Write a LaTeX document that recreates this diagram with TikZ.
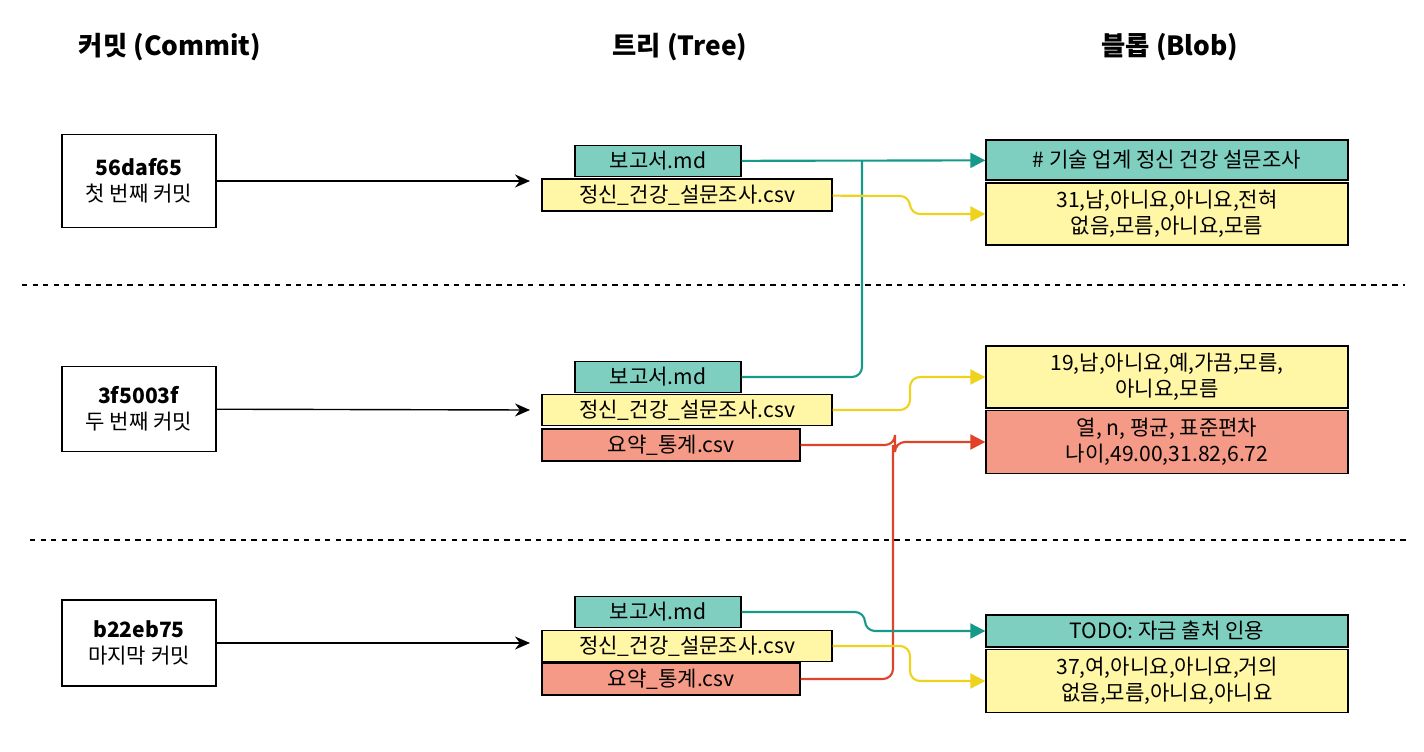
\documentclass[tikz,border=0pt]{standalone}
\usepackage{fontspec}
\setmainfont{Noto Sans CJK KR}
\usetikzlibrary{arrows.meta}
\definecolor{tealfill}{HTML}{7FCFC0}
\definecolor{yellowfill}{HTML}{FFF6A6}
\definecolor{redfill}{HTML}{F49A86}
\definecolor{tealline}{HTML}{17998A}
\definecolor{yellowline}{HTML}{EDD21E}
\definecolor{redline}{HTML}{E04328}
\tikzstyle{title} = [font = \fontsize{15}{18}\selectfont\bfseries]
\tikzstyle{commit} = [rectangle, draw = black, thick, minimum width = 3.08cm,
	align = center, font = \fontsize{12}{15}\selectfont, fill = white]
\tikzstyle{file} = [rectangle, draw = black, thick, inner sep = 0pt,
	font = \fontsize{12}{14}\selectfont]
\tikzstyle{blob} = [rectangle, draw = black, thick, minimum width = 7.24cm,
	align = center, inner sep = 0pt, font = \fontsize{12}{15}\selectfont]
\tikzstyle{arrow} = [thick, -{Stealth[length = 3mm, width = 2.6mm]}]
\tikzstyle{link} = [very thick, rounded corners = 2mm, -{Triangle[length = 3mm, width = 3mm]}]

\begin{document}
\begin{tikzpicture}[x = 0.02cm, y = -0.02cm]
\useasboundingbox (0,0) rectangle (1424,751);

% headings
\node (hc) [title] at (170,47) {커밋 (Commit)};
\node (ht) [title] at (680,47) {트리 (Tree)};
\node (hb) [title] at (1170,47) {블롭 (Blob)};

\draw [dashed, thick] (22,285) -- (1405,285);
\draw [dashed, thick] (30,540) -- (1410,540);

% commits
\node (C1) [commit, minimum height = 1.86cm] at (139,181) {\textbf{56daf65}\\첫 번째 커밋};
\node (C2) [commit, minimum height = 1.7cm] at (139,409) {\textbf{3f5003f}\\두 번째 커밋};
\node (C3) [commit, minimum height = 1.72cm] at (139,643) {\textbf{b22eb75}\\마지막 커밋};

% trees
\node (T1a) [file, fill = tealfill, minimum width = 3.32cm, minimum height = 0.62cm] at (658,161) {보고서.md};
\node (T1b) [file, fill = yellowfill, minimum width = 5.8cm, minimum height = 0.64cm] at (687,195) {정신\_건강\_설문조사.csv};

\node (T2a) [file, fill = tealfill, minimum width = 3.32cm, minimum height = 0.62cm] at (658,377) {보고서.md};
\node (T2b) [file, fill = yellowfill, minimum width = 5.8cm, minimum height = 0.62cm] at (687,410) {정신\_건강\_설문조사.csv};
\node (T2c) [file, fill = redfill, minimum width = 5.16cm, minimum height = 0.64cm] at (671,445) {요약\_통계.csv};

\node (T3a) [file, fill = tealfill, minimum width = 3.32cm, minimum height = 0.62cm] at (658,612) {보고서.md};
\node (T3b) [file, fill = yellowfill, minimum width = 5.8cm, minimum height = 0.62cm] at (687,646) {정신\_건강\_설문조사.csv};
\node (T3c) [file, fill = redfill, minimum width = 5.16cm, minimum height = 0.64cm] at (671,679) {요약\_통계.csv};

\draw [arrow] (C1) -- (530,181);
\draw [arrow] (C2) -- (530,410);
\draw [arrow] (C3) -- (530,643);

% blobs
\node (B1) [blob, fill = tealfill, minimum height = 0.8cm] at (1167,160) {\# 기술 업계 정신 건강 설문조사};
\node (B2) [blob, fill = yellowfill, minimum height = 1.24cm] at (1167,214) {31,남,아니요,아니요,전혀\\없음,모름,아니요,모름};
\node (B3) [blob, fill = yellowfill, minimum height = 1.24cm] at (1167,377) {19,남,아니요,예,가끔,모름,\\아니요,모름};
\node (B4) [blob, fill = redfill, minimum height = 1.26cm] at (1167,442) {열, n, 평균, 표준편차\\나이,49.00,31.82,6.72};
\node (B5) [blob, fill = tealfill, minimum height = 0.64cm] at (1167,631) {TODO: 자금 출처 인용};
\node (B6) [blob, fill = yellowfill, minimum height = 1.26cm] at (1167,681) {37,여,아니요,아니요,거의\\없음,모름,아니요,아니요};

% links
\draw [link, tealline] (T1a) -- (B1);
\draw [link, tealline, -] (T2a) -| (862,160);
\draw [link, yellowline] (T1b) -- (910,196) |- (B2);
\draw [link, yellowline] (T2b) -- (910,410) |- (B3);
\draw [link, redline] (T2c) -- (895,445) |- (B4);
\draw [link, redline, -] (T3c) -| (893,445);
\draw [link, tealline] (T3a) -- (865,612) |- (B5);
\draw [link, yellowline] (T3b) -- (910,646) |- (B6);
\end{tikzpicture}
\end{document}
